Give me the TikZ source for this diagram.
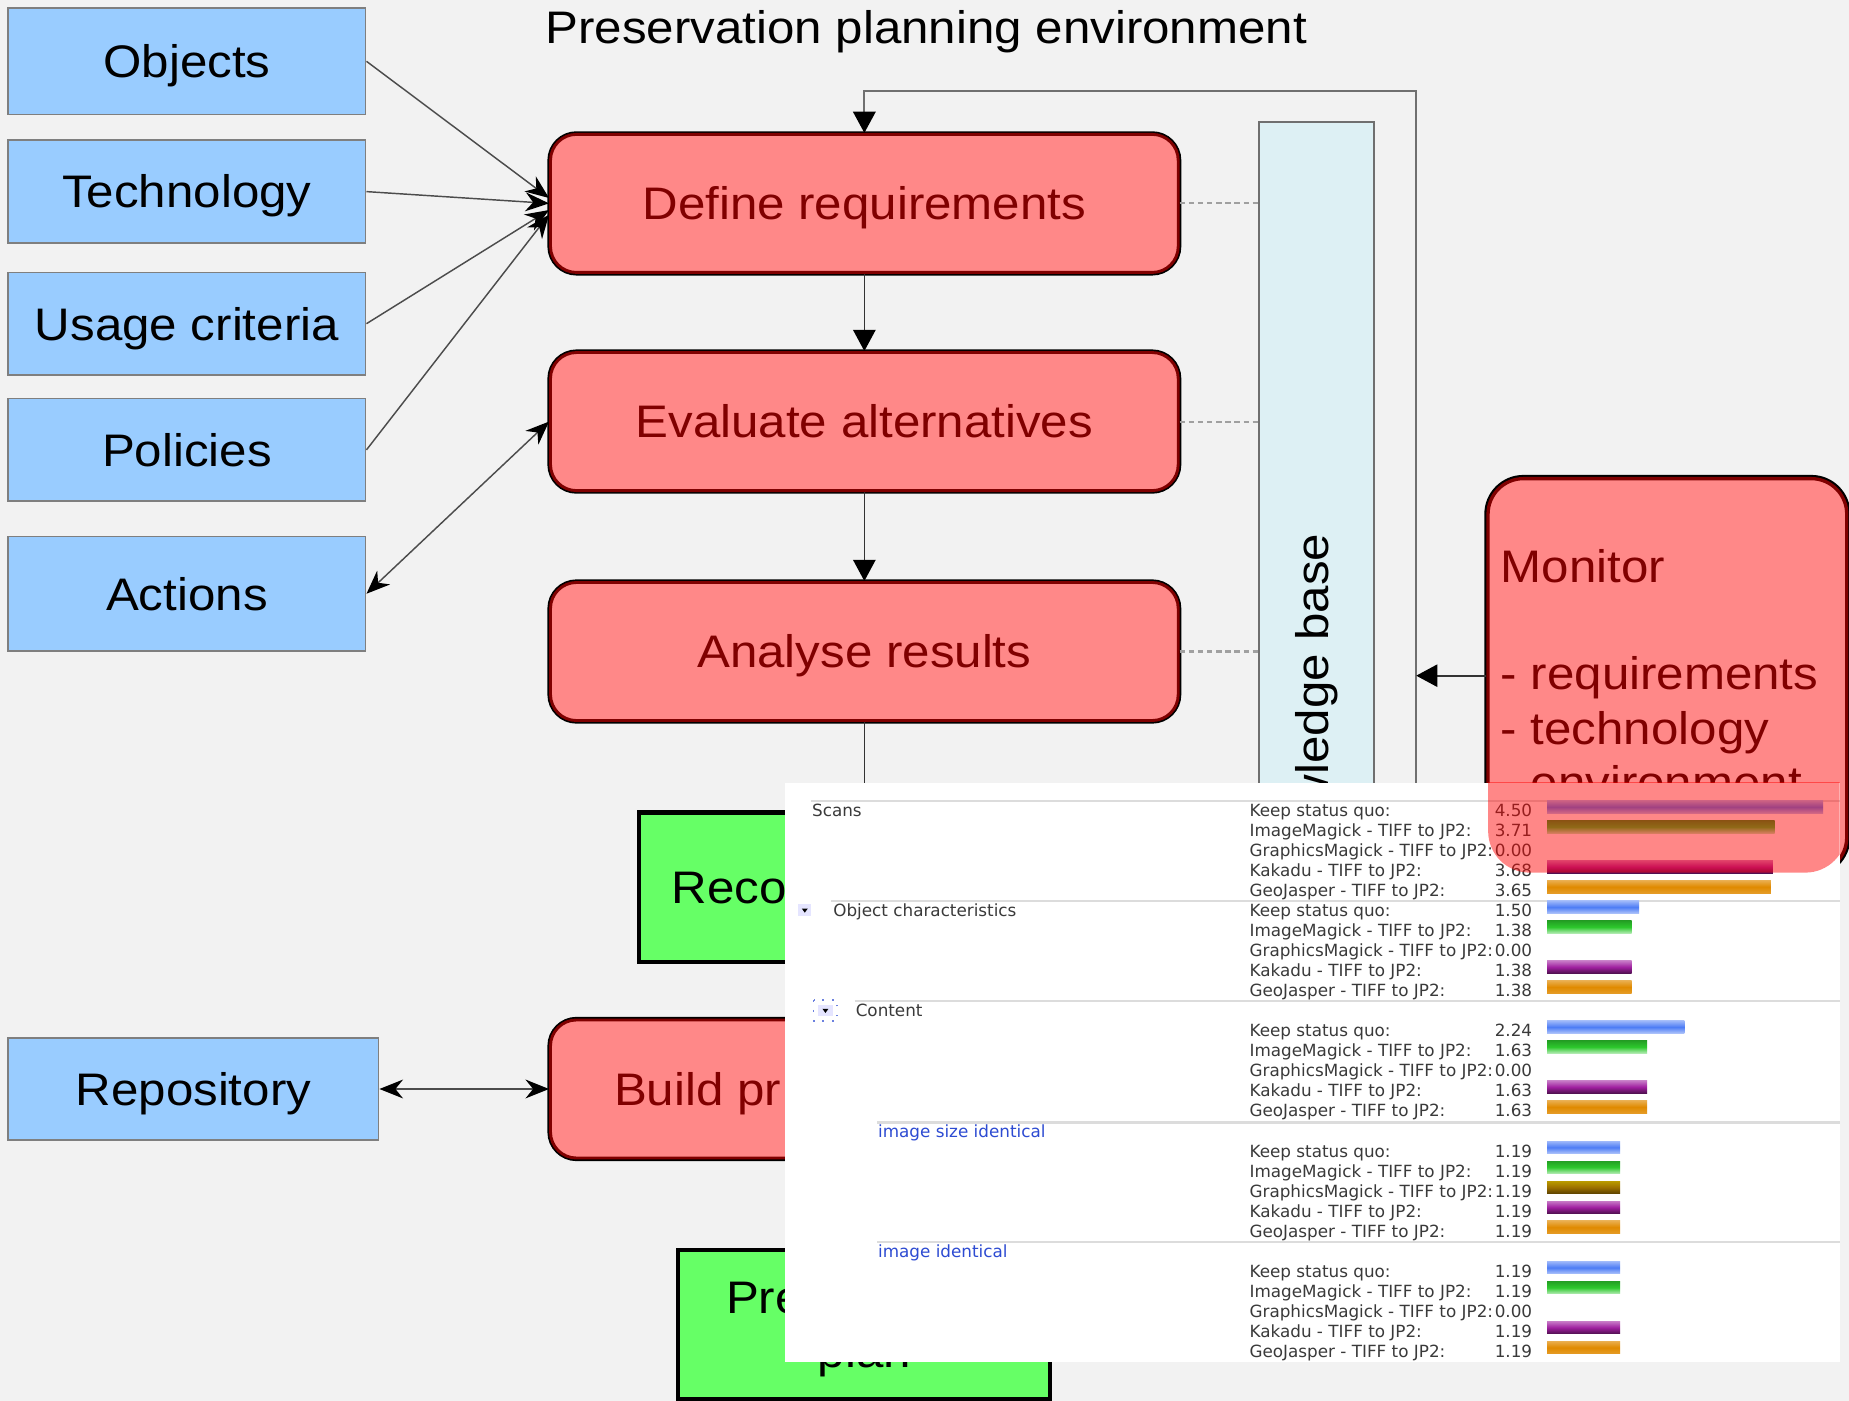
\documentclass[tikz,border=0pt]{standalone}
\usepackage{fontspec}
\setmainfont{Liberation Sans}
\newfontfamily\bigfont{Liberation Sans}[FakeStretch=1.08]
\newfontfamily\uifont{DejaVu Sans}
\usetikzlibrary{arrows.meta}
\definecolor{bgc}{HTML}{F2F2F2}
\definecolor{bluefill}{HTML}{99CCFF}
\definecolor{blueborder}{HTML}{7F7F7F}
\definecolor{redfill}{HTML}{FF8888}
\definecolor{darkred}{HTML}{800000}
\definecolor{greenfill}{HTML}{66FF66}
\definecolor{kbfill}{HTML}{DDF0F4}
\definecolor{kbborder}{HTML}{6F6F6F}
\definecolor{loopgray}{HTML}{707070}
\definecolor{dashgray}{HTML}{A0A0A0}
\definecolor{uigray}{HTML}{3A3A3A}
\definecolor{sepgray}{HTML}{DCDCDC}
\definecolor{linkblue}{HTML}{2D4BD2}
\definecolor{keepc}{HTML}{4D7CF5}
\definecolor{imc}{HTML}{2DC82D}
\definecolor{gmc}{HTML}{9C7000}
\definecolor{kakc}{HTML}{A020A0}
\definecolor{geoc}{HTML}{E08A00}

\newcommand\scorerow[5]{%
  \node[rowtext, anchor=base west] (#1l) at (1059,#2) {#3};
  \node[rowtext, anchor=base east] (#1v) at (1300,#2) {#4};
  \ifdim #4pt>0pt
    \shade[#5] (1312,{#2-13.6}) rectangle ({1312+52*#4},{#2-3});
  \fi}
\newcommand\scoregroup[7]{%
  \scorerow{#1a}{#2}{Keep status quo:}{#3}{barkeep}%
  \scorerow{#1b}{#2+16.93}{ImageMagick - TIFF to JP2:}{#4}{barim}%
  \scorerow{#1c}{#2+33.86}{GraphicsMagick - TIFF to JP2:}{#5}{bargm}%
  \scorerow{#1d}{#2+50.79}{Kakadu - TIFF to JP2:}{#6}{barkak}%
  \scorerow{#1e}{#2+67.72}{GeoJasper - TIFF to JP2:}{#7}{bargeo}}

\begin{document}
\begin{tikzpicture}[x=0.01cm, y=-0.01cm,
  bigtext/.style={font=\bigfont\fontsize{11pt}{13.09pt}\selectfont},
  inbox/.style={draw=blueborder, fill=bluefill, line width=0.4pt, minimum width=3.03cm,
    inner sep=0pt, bigtext, text height=9.9pt, text depth=2pt},
  procbox/.style={rounded corners=0.22cm, fill=redfill, draw=darkred, line width=0.7pt,
    preaction={draw=black, line width=1.5pt}, text=darkred, minimum width=5.32cm,
    minimum height=1.17cm, inner sep=0pt, bigtext, text height=9.9pt, text depth=2pt},
  outbox/.style={draw=black, fill=greenfill, line width=1pt, inner sep=0pt},
  kbbox/.style={draw=kbborder, fill=kbfill, line width=0.5pt, minimum width=0.97cm,
    minimum height=10.06cm, inner sep=0pt},
  flow/.style={draw=black!80, line width=0.4pt, -{Triangle[length=0.18cm,width=0.19cm,color=black]}},
  feed/.style={draw=black!70, line width=0.35pt, -{Stealth[length=0.2cm,width=0.16cm,color=black]}},
  both/.style={draw=black!70, line width=0.35pt,
    {Stealth[length=0.2cm,width=0.16cm,color=black]}-{Stealth[length=0.2cm,width=0.16cm,color=black]}},
  kblink/.style={draw=dashgray, line width=0.5pt, dash pattern=on 1.3pt off 0.9pt},
  loopline/.style={draw=loopgray, line width=0.5pt},
  rowtext/.style={font=\uifont\fontsize{4.05pt}{4.8pt}\selectfont, text=uigray, inner sep=0pt},
  grouptext/.style={rowtext, anchor=base west},
  sepline/.style={draw=sepgray, line width=0.55pt},
  barkeep/.style={top color=keepc!55!white, bottom color=keepc!45!white, middle color=keepc},
  barim/.style={top color=imc!80!black, bottom color=imc!35!white, middle color=imc},
  bargm/.style={top color=gmc!70!yellow, bottom color=gmc!60!black, middle color=gmc},
  barkak/.style={top color=kakc!60!white, bottom color=kakc!50!black, middle color=kakc},
  bargeo/.style={top color=geoc!70!white, bottom color=geoc!85!white, middle color=geoc},
  outtext/.style={bigtext, anchor=base west, inner sep=0pt}]

\useasboundingbox (0,0) rectangle (1568,1188);
\fill[bgc] (0,0) rectangle (1568,1188);

% title
\node[bigtext, anchor=base west, inner sep=0pt] (title) at (462,37) {Preservation planning environment};

% inputs
\node[inbox, minimum height=0.90cm] (obj) at (158.5,52) {Objects};
\node[inbox, minimum height=0.87cm] (tech) at (158.5,162.5) {Technology};
\node[inbox, minimum height=0.87cm] (usage) at (158.5,274.5) {Usage criteria};
\node[inbox, minimum height=0.87cm] (pol) at (158.5,381.5) {Policies};
\node[inbox, minimum height=0.97cm] (act) at (158.5,503.5) {Actions};
\node[inbox, minimum height=0.87cm, minimum width=3.14cm] (repo) at (164,923.5) {Repository};

% knowledge base
\node[kbbox] (kb) at (1116.5,607) {};
\node[bigtext, rotate=90, inner sep=0pt] (kbtext) at (1117,607) {Knowledge base};

% process steps
\node[procbox] (def) at (733,172.5) {Define requirements};
\node[procbox] (eval) at (733,357.5) {Evaluate alternatives};
\node[procbox] (anal) at (733,552.5) {Analyse results};
\node[procbox] (build) at (733,923.5) {};
\node[outtext, text=darkred] (buildtext) at (520,937.4) {Build pr};

% outputs
\node[outbox, minimum width=3.82cm, minimum height=1.27cm] (reco) at (733,752.5) {};
\node[outtext] (recotext) at (569,766) {Reco};
\node[outbox, minimum width=3.15cm, minimum height=1.26cm] (pplan) at (732.5,1123) {};
\node[outtext] (pplantext) at (615,1114) {Pre};
\node[bigtext, anchor=base, inner sep=0pt] (pplantext2) at (733,1160) {plan};

% monitor
\node[draw=darkred, line width=0.8pt, preaction={draw=black, line width=1.8pt},
  fill=redfill, rounded corners=0.3cm,
  minimum width=3.04cm, minimum height=3.34cm, inner sep=0pt] (mon) at (1414,573) {};
\node[bigtext, text=darkred, anchor=base west, inner sep=0pt] (mon1) at (1272,494) {Monitor};
\node[bigtext, text=darkred, anchor=base west, inner sep=0pt] (mon2) at (1272,585) {- requirements};
\node[bigtext, text=darkred, anchor=base west, inner sep=0pt] (mon3) at (1272,631) {- technology};
\node[bigtext, text=darkred, anchor=base west, inner sep=0pt] (mon4) at (1272,677) {- environment};

% connectors
\coordinate (looptop) at (1201,77);
\coordinate (loopbot) at (1201,900);
\draw[loopline, -{Triangle[length=0.18cm,width=0.19cm,color=black]}] (loopbot) -- (looptop) -| (def.north);
\draw[flow] (mon.west) -- (mon.west -| looptop);
\draw[flow] (def) -- (eval);
\draw[flow] (eval) -- (anal);
\draw[flow] (anal) -- (reco);
\draw[kblink] (def.east) -- (def.east -| kb.west);
\draw[kblink] (eval.east) -- (eval.east -| kb.west);
\draw[kblink] (anal.east) -- (anal.east -| kb.west);
\draw[feed] (obj.east) -- ([yshift=1.3pt]def.west);
\draw[feed] (tech.east) -- (def.west);
\draw[feed] (usage.east) -- ([yshift=-1.6pt]def.west);
\draw[feed] (pol.east) -- ([yshift=-2.7pt]def.west);
\draw[both] (act.east) -- (eval.west);
\draw[both] (repo.east) -- (build.west);

% screenshot inset
\fill[white] (666,664) rectangle (1560,1155);
\draw[sepline] (688,679) -- (1560,679);
\draw[sepline] (705,764) -- (1560,764);
\draw[sepline] (725,849) -- (1560,849);
\draw[sepline] (744,952) -- (1560,952);
\draw[sepline] (744,1053) -- (1560,1053);

\node[grouptext] (scans) at (688,692.6) {Scans};
\fill[blue!10] (677,767) rectangle (688,777);
\fill[black] (680,770.5) -- (685,770.5) -- (682.5,774) -- cycle;
\node[grouptext] (objchar) at (706,777.6) {Object characteristics};
\draw[linkblue!70, line width=0.4pt, dotted] (690,848) rectangle (710,866);
\fill[blue!10] (694,852) rectangle (706,862);
\fill[black] (697.5,855.5) -- (702.5,855.5) -- (700,859) -- cycle;
\node[grouptext] (content) at (725,862) {Content};
\node[grouptext, text=linkblue] (imgsize) at (744,964.3) {image size identical};
\node[grouptext, text=linkblue] (imgid) at (744,1066) {image identical};

\scoregroup{ga}{692.6}{4.50}{3.71}{0.00}{3.68}{3.65}
\scoregroup{gb}{777.6}{1.50}{1.38}{0.00}{1.38}{1.38}
\scoregroup{gc}{879.3}{2.24}{1.63}{0.00}{1.63}{1.63}
\scoregroup{gd}{981.3}{1.19}{1.19}{1.19}{1.19}{1.19}
\scoregroup{ge}{1083.3}{1.19}{1.19}{0.00}{1.19}{1.19}

% translucent monitor part over the inset
\begin{scope}
  \clip (666,664) rectangle (1560,1155);
  \fill[red, opacity=0.47, rounded corners=0.35cm] (1262,406) rectangle (1566,740);
\end{scope}
\end{tikzpicture}
\end{document}
